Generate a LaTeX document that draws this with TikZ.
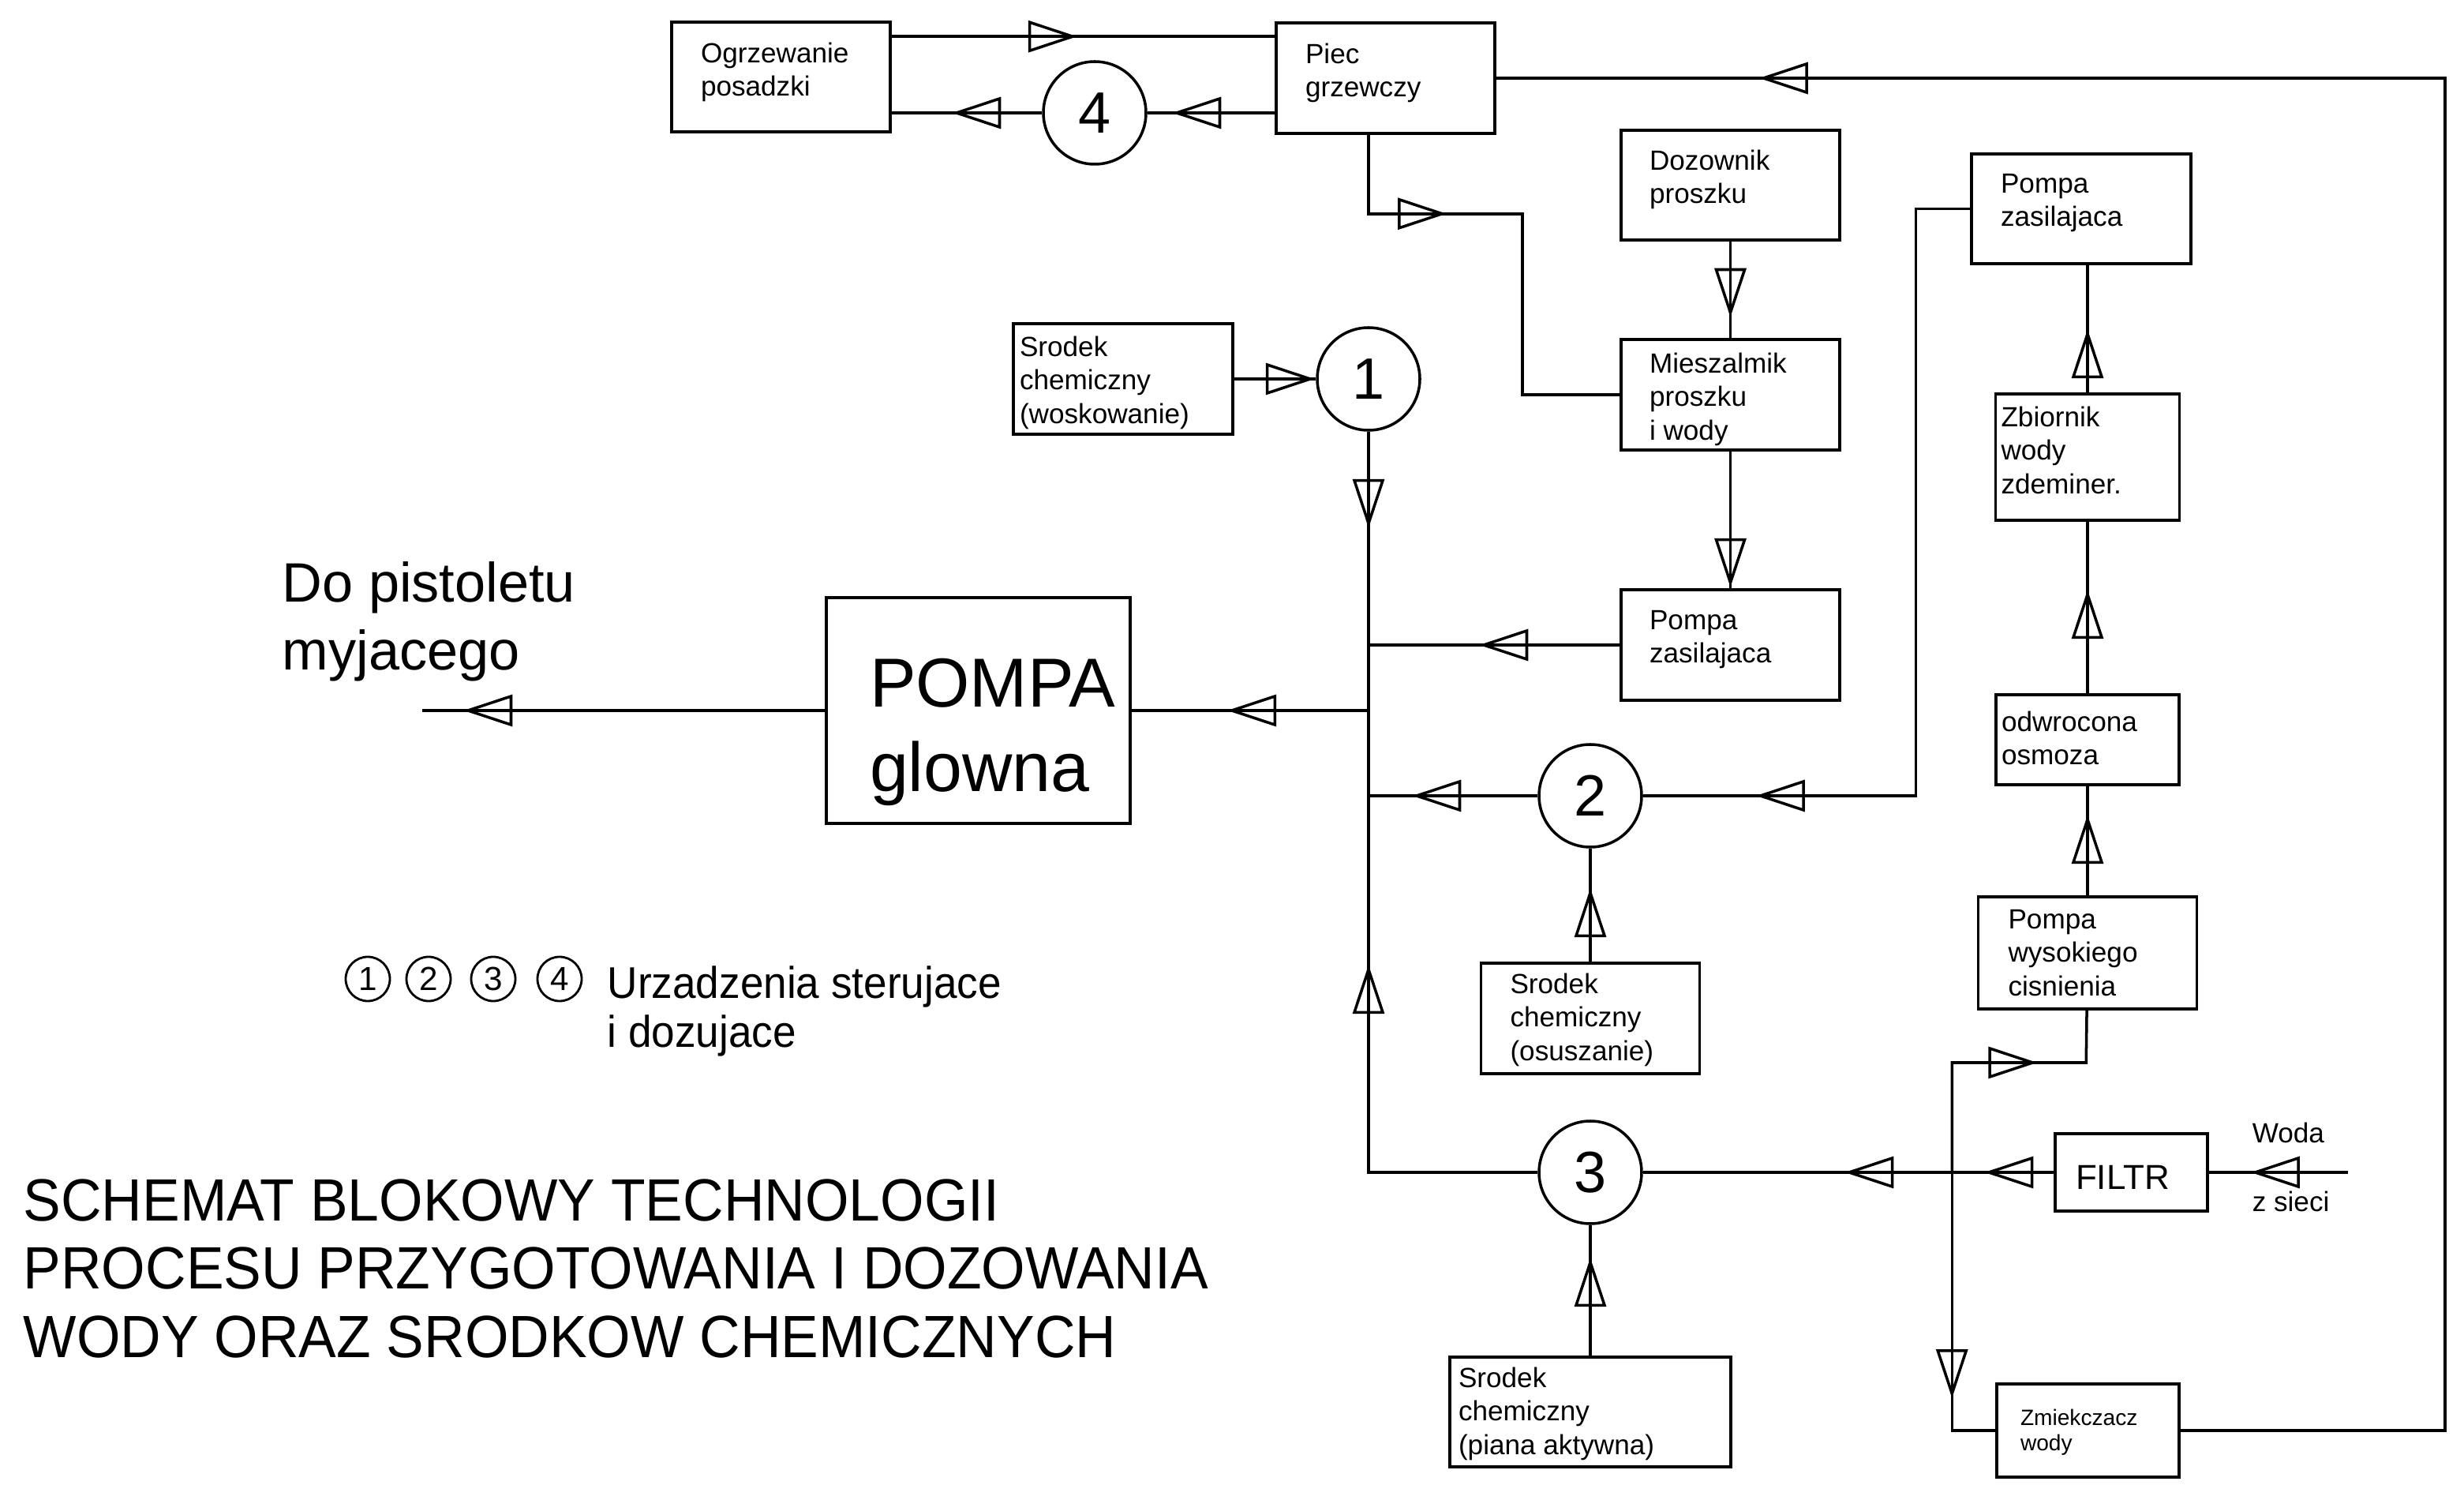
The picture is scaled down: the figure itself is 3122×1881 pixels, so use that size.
\documentclass[tikz,border=0pt]{standalone}
\usepackage{fontspec}
\setmainfont{Liberation Sans}
\newfontfamily\waski[FakeStretch=0.945]{Liberation Sans}
\usetikzlibrary{arrows.meta,decorations.markings,calc}
\tikzset{
  grot/.tip={Triangle[open,length=6.2mm,width=4mm]},
  flow/.style={postaction={decorate,decoration={markings,mark=at position #1 with {\arrow{grot}}}}},
  blok/.style={draw,inner sep=0pt},
  kolo/.style={draw,circle,inner sep=0pt,minimum size=13mm,font=\fontsize{21}{25}\selectfont},
  maly/.style={kolo,minimum size=5.6mm,line width=0.8pt,font=\fontsize{12}{14}\selectfont},
  opis/.style={anchor=north west,inner sep=0pt,align=left,font=\fontsize{10}{12.1}\selectfont},
}
\begin{document}
\begin{tikzpicture}[x=0.1mm,y=-0.1mm,line width=1pt]
\path[fill=white] (0,0) rectangle (3122,1881);
\useasboundingbox (0,0) rectangle (3122,1881);
\node[blok,minimum width=27.7mm,minimum height=13.9mm,label={[opis,xshift=3.7mm,yshift=-2.6mm]north west:{Ogrzewanie\\posadzki}}] (ogrz) at (989.5,97.5) {};
\node[blok,minimum width=27.7mm,minimum height=14mm,label={[opis,xshift=3.7mm,yshift=-2.6mm]north west:{Piec\\grzewczy}}] (piec) at (1755.5,99) {};
\node[blok,minimum width=27.7mm,minimum height=13.9mm,label={[opis,xshift=3.6mm,yshift=-2.5mm]north west:{Dozownik\\proszku}}] (dozow) at (2192.5,234.5) {};
\node[blok,minimum width=27.7mm,minimum height=14mm,label={[opis,xshift=3.6mm,yshift=-1.7mm]north west:{Mieszalmik\\proszku\\i wody}}] (miesz) at (2192.5,500) {};
\node[blok,minimum width=27.7mm,minimum height=14mm,label={[opis,xshift=3.6mm,yshift=-2.6mm]north west:{Pompa\\zasilajaca}}] (pompazas1) at (2192.5,817) {};
\node[blok,minimum width=27.8mm,minimum height=13.9mm,label={[opis,xshift=3.7mm,yshift=-2.5mm]north west:{Pompa\\zasilajaca}}] (pompazas2) at (2637,264.5) {};
\node[blok,minimum width=23.3mm,minimum height=16mm,label={[opis,xshift=0.7mm,yshift=-1.6mm]north west:{Zbiornik\\wody\\zdeminer.}}] (zbiornik) at (2645,579) {};
\node[blok,minimum width=23.2mm,minimum height=11.4mm,label={[opis,xshift=0.7mm,yshift=-2.1mm]north west:{odwrocona\\osmoza}}] (odwr) at (2645,937) {};
\node[blok,minimum width=27.7mm,minimum height=14.2mm,label={[opis,xshift=3.8mm,yshift=-1.6mm]north west:{Pompa\\wysokiego\\cisnienia}}] (pompawys) at (2645,1207) {};
\node[blok,minimum width=19.3mm,minimum height=9.8mm,label={[opis,font=\fontsize{12.5}{15}\selectfont,xshift=2.6mm,yshift=-4mm]north west:{FILTR}}] (filtr) at (2700.5,1485) {};
\node[blok,minimum width=23.1mm,minimum height=11.8mm,label={[opis,font=\fontsize{8}{9.1}\selectfont,xshift=3mm,yshift=-3.2mm]north west:{Zmiekczacz\\wody}}] (zmiek) at (2645.5,1812) {};
\node[blok,minimum width=27.8mm,minimum height=14mm,label={[opis,xshift=0.8mm,yshift=-1.6mm]north west:{Srodek\\chemiczny\\(woskowanie)}}] (sr1) at (1423,480) {};
\node[blok,minimum width=27.7mm,minimum height=14mm,label={[opis,xshift=3.7mm,yshift=-1.3mm]north west:{Srodek\\chemiczny\\(osuszanie)}}] (sr2) at (2015,1290) {};
\node[blok,minimum width=35.6mm,minimum height=13.9mm,label={[opis,xshift=1.1mm,yshift=-1.3mm]north west:{Srodek\\chemiczny\\(piana aktywna)}}] (sr3) at (2015,1788.5) {};
\node[blok,minimum width=38.5mm,minimum height=28.6mm,label={[opis,font=\fontsize{25}{30.4}\selectfont,xshift=5.5mm,yshift=-7.7mm]north west:{POMPA\\glowna}}] (pompa) at (1239.5,900) {};
\node[kolo] (c4) at (1387,143) {4};
\node[kolo] (c1) at (1734,480) {1};
\node[kolo] (c2) at (2015,1008) {2};
\node[kolo] (c3) at (2015,1485) {3};
\node[maly] (l1) at (466,1240) {1};
\node[maly] (l2) at (543,1240) {2};
\node[maly] (l3) at (625,1240) {3};
\node[maly] (l4) at (709,1240) {4};
\node[opis,font=\waski\fontsize{16}{17.5}\selectfont] (legenda) at (768,1222) {Urzadzenia sterujace\\i dozujace};
\node[opis,font=\fontsize{20}{24.5}\selectfont] (cel) at (356,710) {Do pistoletu\\myjacego};
\node[opis,font=\waski\fontsize{21.5}{24.6}\selectfont] (tytul) at (28,1492) {SCHEMAT BLOKOWY TECHNOLOGII\\PROCESU PRZYGOTOWANIA I DOZOWANIA\\WODY ORAZ SRODKOW CHEMICZNYCH};
\node[anchor=base west,inner sep=0pt,font=\fontsize{10}{12}\selectfont] (woda1) at (2852,1448) {Woda};
\node[anchor=base west,inner sep=0pt,font=\fontsize{10}{12}\selectfont] (woda2) at (2852,1534) {z sieci};
\coordinate (zbieg) at (c1 |- pompa.east);
\coordinate (rozdzial) at ([xshift=-12.9mm]filtr.west);
\coordinate (wyjscie) at ([xshift=-51mm]pompa.west);
\coordinate (woda) at ([xshift=17.6mm]filtr.east);
\draw[flow=23.5mm] ($(ogrz.north east)+(0,20)$) -- ($(piec.north west)+(0,19)$);
\draw[flow=13mm] (piec.west |- c4) -- (c4);
\draw[flow=11.4mm] (c4) -- (ogrz.east |- c4);
\draw[flow=19.9mm] (c1 |- piec.south) |- ++(195,100) |- (miesz.west);
\draw[flow=9.6mm] (dozow) -- (miesz);
\draw[flow=17.2mm] (miesz) -- (pompazas1);
\draw[flow=17.8mm] (pompazas1) -- (pompazas1 -| c1);
\draw[flow=10.2mm] (sr1) -- (c1);
\draw[flow=12.2mm] (c1) -- (zbieg);
\draw[flow=17.9mm] (zbieg) -- (pompa);
\draw[flow=45.8mm] (pompa) -- (wyjscie);
\draw[flow=15.9mm] (c2) -- (c2 -| c1);
\draw[flow=101.5mm] (pompazas2.west) -- ++(-69,0) |- (c2);
\draw[flow=9.3mm] (sr2) -- (c2);
\draw[flow=8mm] (zbiornik) -- (zbiornik |- pompazas2.south);
\draw[flow=13.1mm] (odwr) -- (zbiornik);
\draw[flow=10.2mm] (pompawys) -- (odwr);
\draw[flow=12.3mm] (woda) -- (filtr);
\draw[flow=8.8mm,flow=26.5mm] (filtr) -- (c3);
\draw[flow=24.7mm] (rozdzial) |- ++(170,-139) -- (pompawys);
\draw[flow=28.6mm] (rozdzial) |- (zmiek);
\draw[flow=-33.3mm] (zmiek.east) -- ++(335,0) |- (piec);
\draw[flow=12.4mm] (sr3) -- (c3);
\draw[flow=47.7mm] (c3) -| (zbieg);
\end{tikzpicture}
\end{document}
